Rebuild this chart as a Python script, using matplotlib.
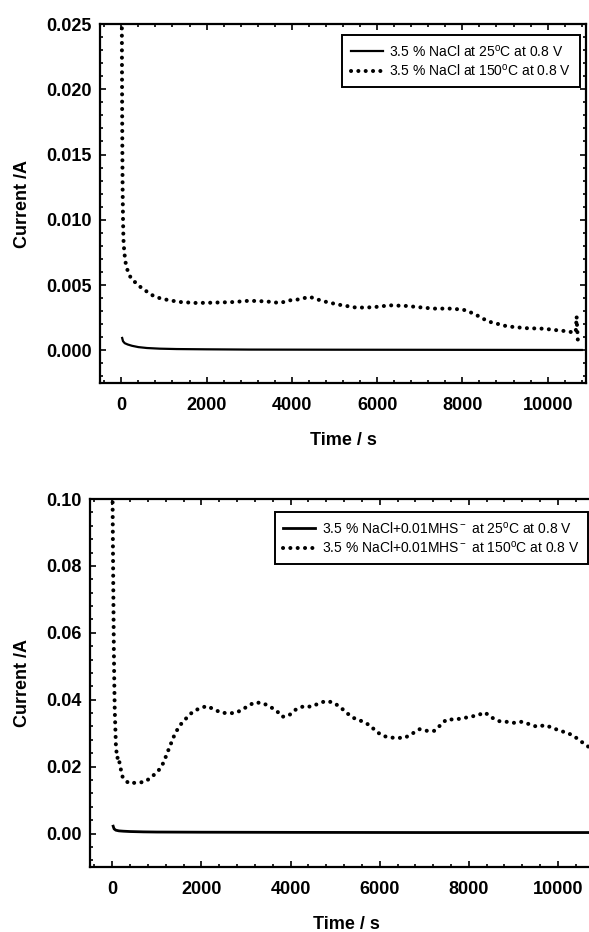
import matplotlib
matplotlib.use("Agg")
import matplotlib.pyplot as plt
from matplotlib.ticker import MultipleLocator, FormatStrFormatter

plt.rcParams['font.family'] = ['Liberation Sans', 'DejaVu Sans']
plt.rcParams['mathtext.fontset'] = 'custom'
plt.rcParams['mathtext.rm'] = 'Liberation Sans'
plt.rcParams['mathtext.it'] = 'Liberation Sans:italic'
plt.rcParams['mathtext.bf'] = 'Liberation Sans:bold'

# pannello superiore: 3.5 % NaCl
t_a25 = [20, 40, 80, 150, 250, 400, 600, 900, 1300, 2000, 3000, 5000, 8000, 10800]
i_a25 = [0.00095, 0.0007, 0.00055, 0.00045, 0.00035, 0.00025, 0.00018, 0.00013,
         0.0001, 0.00008, 0.00006, 0.00005, 0.00004, 0.00003]

t_a150 = [10, 15, 20, 25, 30, 40, 50, 70, 110, 160,
          230, 330, 430, 600, 740, 900, 1130, 1400, 1760, 2100,
          2620, 3000, 3400, 3720, 3950, 4150, 4420, 4600, 4820, 5100,
          5520, 5900, 6300, 6700, 7000, 7320, 7700, 8020, 8200, 8345,
          8500, 8660, 9050, 9500, 9910, 10200, 10460, 10620, 10660, 10680,
          10690, 10700, 10710]
i_a150 = [0.028, 0.022, 0.018, 0.015, 0.0125, 0.010, 0.0085, 0.0075, 0.0065, 0.006,
          0.0055, 0.0052, 0.0049, 0.0045, 0.0042, 0.0040, 0.00383, 0.0037, 0.00363, 0.00365,
          0.0037, 0.0038, 0.00375, 0.00363, 0.00383, 0.0039, 0.0041, 0.0039, 0.0037, 0.0035,
          0.00327, 0.0033, 0.00345, 0.0034, 0.0033, 0.0032, 0.0032, 0.00312, 0.0029, 0.00268,
          0.0024, 0.00217, 0.00184, 0.0017, 0.00166, 0.00155, 0.00146, 0.00136, 0.0014, 0.0026,
          0.0019, 0.0013, 0.0007]

# pannello inferiore: 3.5 % NaCl + 0.01 M HS-
t_b25 = [20, 40, 80, 150, 250, 400, 700, 1000, 2000, 4000, 7000, 11000]
i_b25 = [0.0022, 0.0014, 0.001, 0.0008, 0.0007, 0.0006, 0.0005, 0.00045, 0.0004,
         0.00035, 0.0003, 0.0003]

t_b150 = [7, 15, 25, 35, 45, 55, 70, 82, 110, 140,
          170, 200, 232, 367, 532, 719, 869, 1041, 1146, 1281,
          1408, 1521, 1656, 1805, 1955, 2120, 2292, 2442, 2592, 2740,
          2891, 3041, 3191, 3378, 3528, 3680, 3813, 3963, 4112, 4300,
          4465, 4636, 4787, 4959, 5124, 5274, 5438, 5596, 5775, 5933,
          6075, 6225, 6389, 6562, 6735, 6899, 7063, 7229, 7364, 7499,
          7685, 7850, 8022, 8187, 8360, 8510, 8681, 8847, 9011, 9184,
          9355, 9535, 9708, 9881, 10045, 10218, 10382, 10532, 10667, 10800]
i_b150 = [0.099, 0.085, 0.07, 0.055, 0.045, 0.037, 0.031, 0.026, 0.0225, 0.023,
          0.0205, 0.0187, 0.0169, 0.0150, 0.0152, 0.0154, 0.0167, 0.0189, 0.0211, 0.0257,
          0.0299, 0.0324, 0.0344, 0.0364, 0.0374, 0.0381, 0.0371, 0.0361, 0.036, 0.036,
          0.0368, 0.0381, 0.0392, 0.039, 0.038, 0.0368, 0.0349, 0.0353, 0.0370, 0.0381,
          0.0379, 0.0389, 0.0396, 0.0392, 0.0377, 0.0359, 0.0344, 0.0336, 0.0324, 0.0304,
          0.0292, 0.0287, 0.0286, 0.0286, 0.0299, 0.0312, 0.0307, 0.0307, 0.0324, 0.0341,
          0.0341, 0.0344, 0.0349, 0.0353, 0.0362, 0.0347, 0.0336, 0.0334, 0.0331, 0.0334,
          0.0327, 0.0319, 0.0324, 0.0316, 0.0307, 0.0301, 0.0289, 0.0274, 0.0261, 0.025]

lab_a = ['3.5 % NaCl at 25$^{\\rm o}$C at 0.8 V', '3.5 % NaCl at 150$^{\\rm o}$C at 0.8 V']
lab_b = ['3.5 % NaCl+0.01MHS$^{\\rm -}$ at 25$^{\\rm o}$C at 0.8 V',
         '3.5 % NaCl+0.01MHS$^{\\rm -}$ at 150$^{\\rm o}$C at 0.8 V']

W, H = 589, 932
fig = plt.figure(figsize=(W / 100, H / 100), dpi=100)

def px(x0, y0, x1, y1):
    return [x0 / W, 1 - y1 / H, (x1 - x0) / W, (y1 - y0) / H]

dot = dict(color='black', lw=2.9, linestyle=(0, (0.02, 1.8)), dash_capstyle='round')

def style(ax, xmin, xmaj, ymin, ymaj, fmt):
    ax.xaxis.set_major_locator(MultipleLocator(xmaj))
    ax.xaxis.set_minor_locator(MultipleLocator(xmin))
    ax.yaxis.set_major_locator(MultipleLocator(ymaj))
    ax.yaxis.set_minor_locator(MultipleLocator(ymin))
    ax.yaxis.set_major_formatter(FormatStrFormatter(fmt))
    ax.tick_params(which='both', direction='in', top=True, right=True, width=1.2)
    ax.tick_params(which='major', length=4.5)
    ax.tick_params(which='minor', length=2.3)
    ax.tick_params(axis='x', which='major', pad=10)
    ax.tick_params(axis='y', which='major', pad=6)
    for lbl in ax.get_xticklabels() + ax.get_yticklabels():
        lbl.set_fontsize(13)
        lbl.set_fontweight('bold')
    for s in ax.spines.values():
        s.set_linewidth(1.6)
    ax.set_xlabel('Time / s', fontsize=13, fontweight='bold', labelpad=13)
    ax.set_ylabel('Current /A', fontsize=13, fontweight='bold', labelpad=11)

def legenda(ax, x, y):
    leg = ax.legend(loc='upper right', bbox_to_anchor=(x / W, 1 - y / H),
                    bbox_transform=fig.transFigure, fontsize=10, fancybox=False,
                    edgecolor='black', framealpha=1, borderaxespad=0,
                    handlelength=2.3, handletextpad=0.5, labelspacing=0.25, borderpad=0.6)
    leg.get_frame().set_linewidth(1.4)

# grafico superiore
ax1 = fig.add_axes(px(100, 24, 586, 383))
ax1.plot(t_a25, i_a25, label=lab_a[0], color='black', lw=1.6)
ax1.plot(t_a150, i_a150, label=lab_a[1], **dot)
ax1.set_xlim(-500, 10900)
ax1.set_ylim(-0.0025, 0.025)
style(ax1, 400, 2000, 0.001, 0.005, '%.3f')
legenda(ax1, 580, 35)

# grafico inferiore
ax2 = fig.add_axes(px(90, 499, 602.5, 867))
ax2.plot(t_b25, i_b25, label=lab_b[0], color='black', lw=2.0)
ax2.plot(t_b150, i_b150, label=lab_b[1], **dot)
ax2.set_xlim(-500, 11000)
ax2.set_ylim(-0.01, 0.10)
style(ax2, 400, 2000, 0.004, 0.02, '%.2f')
legenda(ax2, 588, 512)

fig.savefig('out.png', dpi=100)
